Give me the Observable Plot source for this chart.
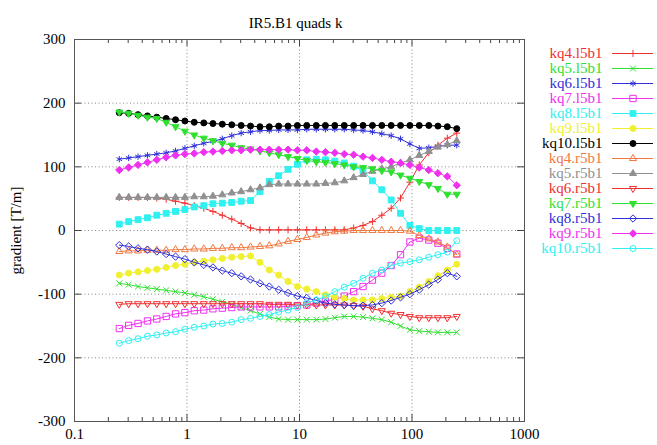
<!DOCTYPE html>
<html><head><meta charset="utf-8">
<script src="https://cdn.jsdelivr.net/npm/d3@7"></script>
<script src="https://cdn.jsdelivr.net/npm/@observablehq/plot@0.6"></script>
<style>
body{margin:0;background:#fff;}
#wrap{position:relative;width:657px;height:445px;font-family:"Liberation Serif","Times New Roman",serif;}
#legend{position:absolute;left:530px;top:0;}
#chart{position:absolute;left:0;top:0;}
</style></head><body><div id="wrap"><div id="chart"></div><div id="legend"></div></div>
<script>
const title = "IR5.B1 quads k";
const yLabel = "gradient [T/m]";
const xTicks = [0.1, 1, 10, 100, 1000];
const xMinorTicks = [0.2,0.3,0.4,0.5,0.6,0.7,0.8,0.9,2,3,4,5,6,7,8,9,20,30,40,50,60,70,80,90,200,300,400,500,600,700,800,900];
const yTicks = [-300, -200, -100, 0, 100, 200, 300];

const xValues = [0.25,0.303,0.367,0.445,0.539,0.653,0.791,0.958,1.16,1.41,1.70,2.06,2.50,3.03,3.67,4.45,5.39,6.53,7.91,9.58,11.6,14.1,17.0,20.6,25.0,30.3,36.7,44.5,53.9,65.3,79.1,95.8,116,141,170,206,250];

const kq4_l5b1 = [52,52,52,52,51,49,46,43,39,35,30,24,18,11,4,1,1,1,1,1,1,1,1,1,1,4,8,14,24,35,51,76,103,122,134,145,153];
const kq5_l5b1 = [-83,-85,-88,-90,-92,-94,-96,-98,-101,-104,-108,-112,-116,-121,-126,-131,-136,-139,-140,-140,-140,-140,-139,-137,-135,-135,-136,-138,-140,-144,-150,-156,-158,-159,-160,-160,-160];
const kq6_l5b1 = [112,114,116,118,120,122,125,129,133,137,140,144,149,153,155,157,157,158,158,158,159,159,159,159,159,158,157,155,152,149,144,136,129,130,132,134,134];
const kq7_l5b1 = [-154,-149,-146,-142,-139,-135,-131,-129,-126,-125,-123,-122,-121,-120,-120,-120,-120,-120,-119,-118,-117,-114,-111,-108,-103,-96,-88,-78,-67,-55,-38,-18,-12,-15,-20,-28,-37];
const kq8_l5b1 = [10,14,17,20,24,27,30,33,37,39,42,43,44,46,47,61,77,86,96,104,111,112,111,109,106,101,94,78,64,48,27,8,3,0,0,0,0];
const kq9_l5b1 = [-70,-67,-65,-63,-61,-58,-55,-53,-50,-48,-46,-44,-42,-41,-40,-50,-62,-70,-80,-88,-92,-96,-101,-105,-107,-109,-109,-109,-107,-105,-103,-96,-89,-80,-71,-62,-53];
const kq10_l5b1 = [185,184,182,180,178,176,174,172,170,169,168,167,166,165,164,163,163,164,164,165,165,165,165,165,165,165,165,165,165,165,165,165,165,165,164,163,160];
const kq4_r5b1 = [-33,-32,-32,-31,-31,-31,-30,-30,-29,-29,-28,-28,-27,-27,-26,-25,-24,-21,-17,-14,-11,-7,-4,-2,-1,0,0,0,0,0,0,-1,-8,-13,-18,-26,-38];
const kq5_r5b1 = [52,52,52,52,52,52,52,52,53,53,54,56,59,61,64,67,72,73,73,73,73,73,74,75,78,83,88,93,97,100,106,111,118,124,131,135,141];
const kq6_r5b1 = [-116,-115,-115,-115,-115,-115,-115,-115,-115,-115,-115,-115,-115,-115,-115,-115,-116,-116,-116,-117,-117,-117,-117,-117,-117,-118,-119,-123,-126,-130,-132,-135,-137,-137,-137,-137,-135];
const kq7_r5b1 = [186,184,181,178,176,170,163,156,150,145,141,137,134,130,128,125,122,119,116,113,110,108,107,105,103,100,99,97,94,92,87,82,77,72,66,57,57];
const kq8_r5b1 = [-23,-25,-28,-30,-33,-37,-41,-45,-50,-54,-58,-63,-67,-72,-77,-83,-88,-93,-98,-103,-106,-110,-114,-116,-117,-118,-118,-117,-114,-110,-105,-100,-93,-85,-77,-67,-72];
const kq9_r5b1 = [95,99,103,107,111,115,118,120,121,123,124,125,126,126,127,127,127,127,127,126,126,124,123,122,120,119,116,114,111,108,106,103,99,95,90,85,71];
const kq10_r5b1 = [-177,-173,-170,-166,-164,-161,-159,-155,-152,-150,-147,-146,-144,-140,-138,-135,-132,-128,-125,-121,-114,-109,-104,-96,-89,-83,-75,-67,-62,-55,-51,-49,-46,-42,-38,-34,-16];

const seriesNames = ["kq4.l5b1","kq5.l5b1","kq6.l5b1","kq7.l5b1","kq8.l5b1","kq9.l5b1","kq10.l5b1","kq4.r5b1","kq5.r5b1","kq6.r5b1","kq7.r5b1","kq8.r5b1","kq9.r5b1","kq10.r5b1"];
const seriesValues = [kq4_l5b1,kq5_l5b1,kq6_l5b1,kq7_l5b1,kq8_l5b1,kq9_l5b1,kq10_l5b1,kq4_r5b1,kq5_r5b1,kq6_r5b1,kq7_r5b1,kq8_r5b1,kq9_r5b1,kq10_r5b1];

// custom downward triangle symbol
const triangleDown = {
  draw(context, size) {
    const s3 = Math.sqrt(3);
    const y = -Math.sqrt(size / (s3 * 3));
    context.moveTo(0, -y * 2);
    context.lineTo(-s3 * y, y);
    context.lineTo(s3 * y, y);
    context.closePath();
  }
};

const styles = [
  {color:"#f03030", symbol:"plus", filled:false, r:2.4},
  {color:"#30e030", symbol:"times", filled:false, r:2.8},
  {color:"#3030d8", symbol:"asterisk", filled:false, r:3},
  {color:"#f030f0", symbol:"square2", filled:false, r:4},
  {color:"#30f0f0", symbol:"square", filled:true, r:3.3},
  {color:"#f0f030", symbol:"circle", filled:true, r:3},
  {color:"#000000", symbol:"circle", filled:true, r:3},
  {color:"#f07840", symbol:"triangle2", filled:false, r:3.4},
  {color:"#909090", symbol:"triangle", filled:true, r:2.6},
  {color:"#f03030", symbol:triangleDown, filled:false, r:2.6},
  {color:"#30e030", symbol:triangleDown, filled:true, r:2.6},
  {color:"#3030d8", symbol:"diamond2", filled:false, r:3.3},
  {color:"#f030f0", symbol:"diamond2", filled:true, r:3.3},
  {color:"#30f0f0", symbol:"circle", filled:false, r:3}
];

const W = 657, H = 445, mL = 74, mR = 133, mT = 39, mB = 24;
const innerW = W - mL - mR, innerH = H - mT - mB;
const gridStyle = {stroke:"#888", strokeOpacity:1, strokeDasharray:"1,2.5"};
const tickColor = "#444";

const seriesMarks = [];
seriesNames.forEach((name, k) => {
  const rows = xValues.map((x, i) => ({x, y: seriesValues[k][i], series: name}));
  const st = styles[k];
  seriesMarks.push(Plot.line(rows, {x:"x", y:"y", stroke: st.color, strokeWidth: 1}));
  seriesMarks.push(Plot.dot(rows, {x:"x", y:"y", r: st.r, symbol: st.symbol,
    fill: st.filled ? st.color : "none", stroke: st.color, strokeWidth: 1}));
});

const chart = Plot.plot({
  width: W, height: H,
  marginLeft: mL, marginRight: mR, marginTop: mT, marginBottom: mB,
  style: {fontFamily: '"Liberation Serif","Times New Roman",serif', fontSize: "15px", color: "#000", background: "transparent"},
  x: {type: "log", domain: [0.1, 1000]},
  y: {domain: [-300, 300]},
  marks: [
    Plot.gridX([1, 10, 100], gridStyle),
    Plot.gridY([-200, -100, 0, 100, 200], gridStyle),
    Plot.axisX({ticks: xTicks, tickSize: 0, tickPadding: 7, tickFormat: d => String(d), label: null, fontSize: 15}),
    Plot.axisY({ticks: yTicks, tickSize: 0, tickPadding: 9, tickFormat: d => String(d), label: yLabel, labelAnchor: "center", labelOffset: 64, labelArrow: "none", fontSize: 15}),
    Plot.tickX(xMinorTicks, {x: d => d, insetTop: innerH - 4, stroke: tickColor}),
    Plot.tickX(xMinorTicks, {x: d => d, insetBottom: innerH - 4, stroke: tickColor}),
    Plot.tickX(xTicks, {x: d => d, insetTop: innerH - 7, stroke: tickColor}),
    Plot.tickX(xTicks, {x: d => d, insetBottom: innerH - 7, stroke: tickColor}),
    Plot.tickY(yTicks, {y: d => d, insetRight: innerW - 7, stroke: tickColor}),
    Plot.tickY(yTicks, {y: d => d, insetLeft: innerW - 7, stroke: tickColor}),
    ...seriesMarks,
    Plot.frame({stroke: "#555"}),
    Plot.text([title], {frameAnchor: "top", dy: -22, dx: -4, fontSize: 15, fill: "#000"})
  ]
});
document.getElementById("chart").appendChild(chart);

// legend, drawn with its own point scale
const legendMarks = [];
seriesNames.forEach((name, k) => {
  const st = styles[k];
  legendMarks.push(Plot.text([name], {y: d => d, x: 0, dx: -10, textAnchor: "end", fill: st.color, fontSize: 15}));
  legendMarks.push(Plot.ruleY([name], {y: d => d, x1: 0, x2: 1, stroke: st.color, strokeWidth: 1}));
  legendMarks.push(Plot.dot([name], {y: d => d, x: 0.5, r: st.r, symbol: st.symbol,
    fill: st.filled ? st.color : "none", stroke: st.color, strokeWidth: 1}));
});
const legend = Plot.plot({
  width: 127, height: 262,
  marginLeft: 82, marginRight: 4, marginTop: 52.5, marginBottom: 14,
  style: {fontFamily: '"Liberation Serif","Times New Roman",serif', fontSize: "15px", background: "transparent"},
  x: {domain: [0, 1], axis: null},
  y: {type: "point", domain: seriesNames, padding: 0, axis: null},
  marks: legendMarks
});
document.getElementById("legend").appendChild(legend);
</script>
</body></html>
